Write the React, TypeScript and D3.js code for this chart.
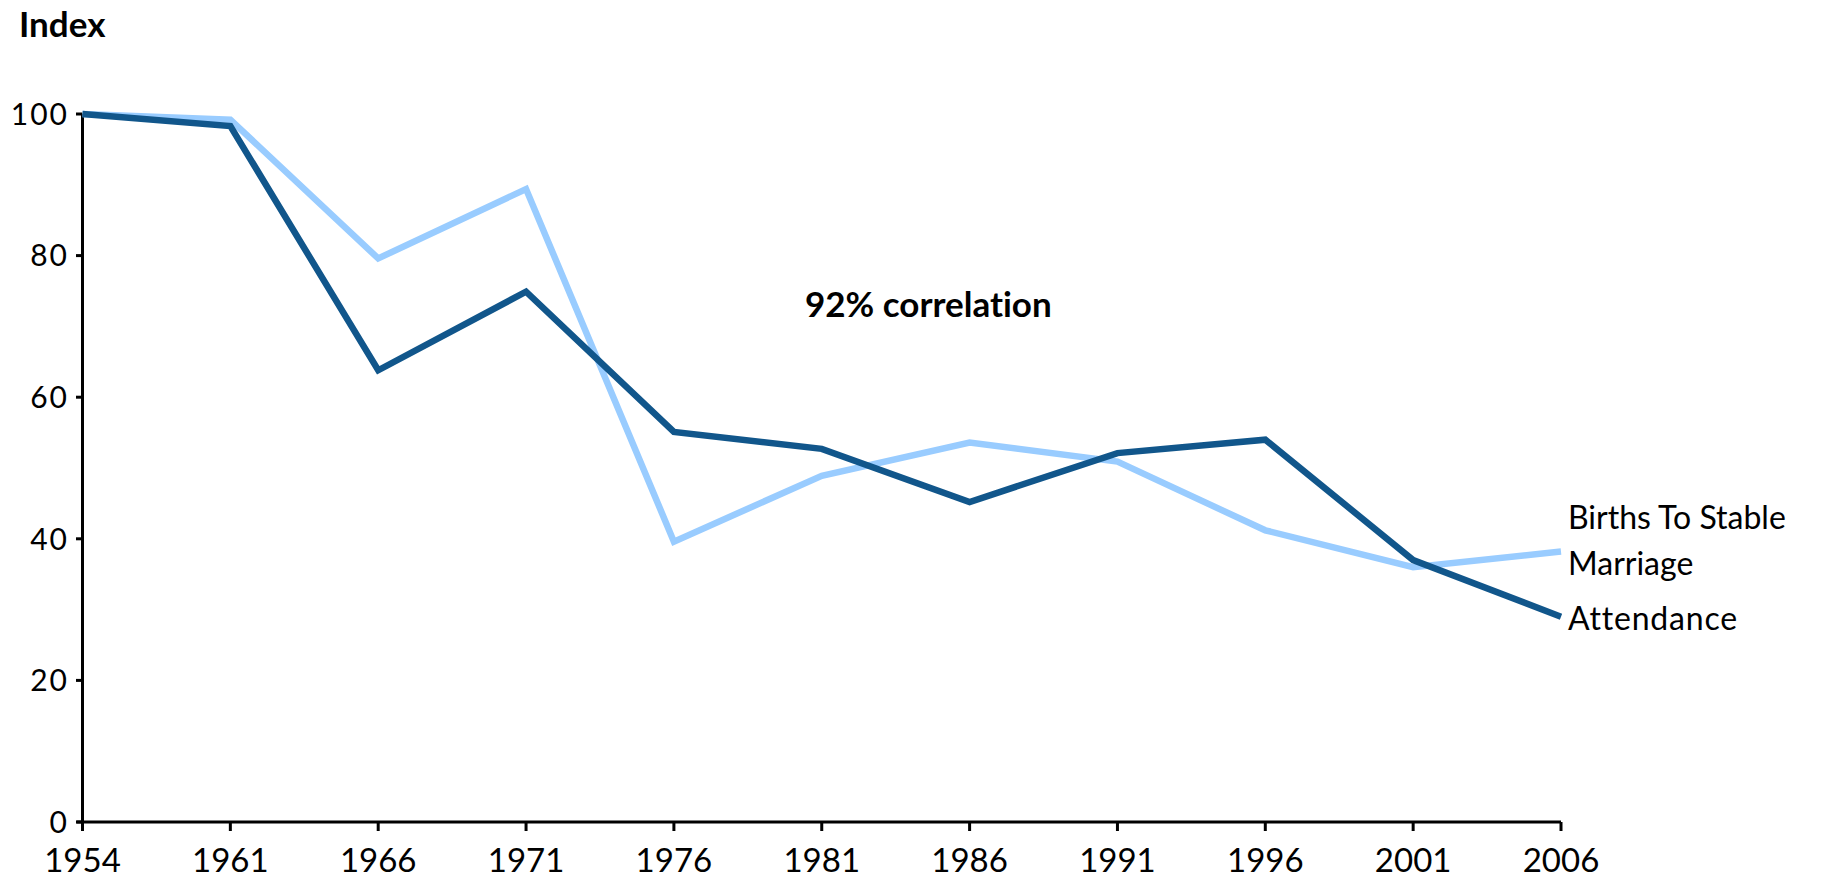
import React from "react";
import * as d3 from "d3";

const years = ["1954", "1961", "1966", "1971", "1976", "1981", "1986", "1991", "1996", "2001", "2006"];
const birthsStableMarriage = [100, 99.2, 79.6, 89.4, 39.6, 48.9, 53.6, 50.9, 41.2, 36.0, 38.2];
const attendance = [100, 98.3, 63.8, 74.9, 55.1, 52.7, 45.2, 52.1, 54.0, 37.0, 29.0];
const yTicks = [0, 20, 40, 60, 80, 100];

const W = 1821;
const H = 877;
const LIGHT = "#99CCFF";
const DARK = "#11568B";
const FONT = "Lato, 'Open Sans', sans-serif";

export default function App() {
  const x = d3.scalePoint<string>().domain(years).range([82.5, 1561]);
  const y = d3.scaleLinear().domain([0, 100]).range([822, 114]);
  const line = d3
    .line<number>()
    .x((_, i) => x(years[i]) as number)
    .y((d) => y(d));

  const lastX = x(years[years.length - 1]) as number;
  const lastLight = y(birthsStableMarriage[birthsStableMarriage.length - 1]);
  const lastDark = y(attendance[attendance.length - 1]);

  return (
    <svg
      width={W}
      height={H}
      style={{
        position: "absolute",
        left: 0,
        top: 0,
        background: "#fff",
        fontVariantLigatures: "none",
        fontFeatureSettings: '"liga" 0, "clig" 0',
      }}
      fontFamily={FONT}
    >
      <text x={19} y={37} fontSize={35} fontWeight="bold" fill="#000">
        Index
      </text>

      {/* y axis */}
      <line x1={82.5} x2={82.5} y1={y(100)} y2={y(0)} stroke="#000" strokeWidth={3} />
      {yTicks.map((t) => (
        <g key={t}>
          <line x1={76} x2={82.5} y1={y(t)} y2={y(t)} stroke="#000" strokeWidth={3} />
          <text
            x={69}
            y={y(t)}
            dy="0.36em"
            textAnchor="end"
            fontSize={30}
            letterSpacing={2}
            fill="#000"
          >
            {t}
          </text>
        </g>
      ))}

      {/* x axis */}
      <line x1={82.5 - 6} x2={1561} y1={y(0)} y2={y(0)} stroke="#000" strokeWidth={3} />
      {years.map((yr) => (
        <g key={yr}>
          <line
            x1={x(yr) as number}
            x2={x(yr) as number}
            y1={y(0)}
            y2={y(0) + 9}
            stroke="#000"
            strokeWidth={3}
          />
          <text
            x={x(yr) as number}
            y={871.5}
            textAnchor="middle"
            fontSize={33}
            fill="#000"
          >
            {yr}
          </text>
        </g>
      ))}

      <path d={line(birthsStableMarriage) || ""} fill="none" stroke={LIGHT} strokeWidth={6.5} strokeLinejoin="miter" />
      <path d={line(attendance) || ""} fill="none" stroke={DARK} strokeWidth={6.5} strokeLinejoin="miter" />

      <text x={805} y={317} fontSize={35} fontWeight="bold" fill="#000">
        92% correlation
      </text>

      <text x={lastX + 7} y={lastLight - 23} fontSize={32} fill="#000">
        Births To Stable
      </text>
      <text x={lastX + 7} y={lastLight + 23} fontSize={32} fill="#000">
        Marriage
      </text>
      <text x={lastX + 7} y={lastDark + 13} fontSize={32} letterSpacing={0.8} fill="#000">
        Attendance
      </text>
    </svg>
  );
}
